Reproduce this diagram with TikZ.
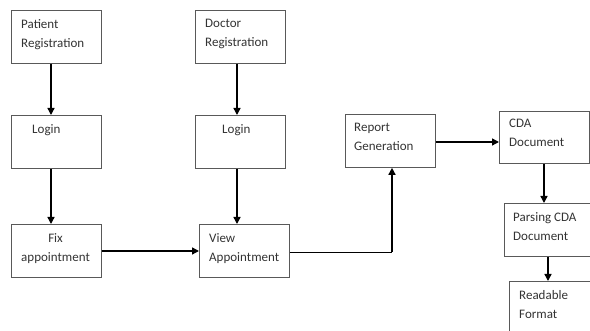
\documentclass[tikz,border=0pt]{standalone}
\usepackage{fontspec}
\setmainfont{Carlito}
\usepackage{tikz}
\usetikzlibrary{arrows.meta}

\tikzset{
  stagebox/.style={draw=black!65, line width=0.8pt, minimum width=90pt, minimum height=53pt,
    anchor=north west, inner sep=0pt},
  boxtext/.style={anchor=north west, align=left, inner sep=0pt, xshift=10pt, yshift=-9pt,
    font=\fontsize{13}{19}\selectfont, text=black!80},
  flow/.style={line width=1.4pt, -{Triangle[length=7pt,width=7pt]}}
}

\begin{document}
\begin{tikzpicture}[x=1pt,y=-1pt]
\useasboundingbox (0,0) rectangle (590,331);

% patient side
\node[stagebox, label={[boxtext]north west:Patient\\Registration}] (preg) at (11,10) {};
\node[stagebox, label={[boxtext, xshift=11pt]north west:Login}] (plogin) at (11,115) {};
\node[stagebox, label={[boxtext, align=center]north west:Fix\\appointment}] (fix) at (11,224) {};

% doctor side
\node[stagebox, label={[boxtext]north west:Doctor\\Registration}] (dreg) at (195,10) {};
\node[stagebox, label={[boxtext, xshift=17pt]north west:Login}] (dlogin) at (195,115) {};
\node[stagebox, label={[boxtext]north west:View\\Appointment}] (view) at (199,224) {};

% report and CDA
\node[stagebox, label={[boxtext, xshift=-1pt]north west:Report\\Generation}] (report) at (345,114) {};
\node[stagebox, minimum height=52pt, label={[boxtext, yshift=1pt]north west:CDA\\Document}] (cda) at (499,111) {};
\node[stagebox, label={[boxtext, xshift=-1pt]north west:Parsing CDA\\Document}] (parse) at (504,203) {};
\node[stagebox, label={[boxtext]north west:Readable\\Format}] (readable) at (509,281) {};

\coordinate (bend) at (392,252);

\draw[flow] (preg.south -| 51,0) -- (plogin.north -| 51,0);
\draw[flow] (plogin.south -| 51,0) -- (fix.north -| 51,0);
\draw[flow] (dreg.south -| 237,0) -- (dlogin.north -| 237,0);
\draw[flow] (dlogin.south -| 237,0) -- (view.north -| 237,0);
\draw[flow] (fix.east |- 0,251) -- (view.west |- 0,251);
\draw[line width=0.6pt] (view.east |- bend) -- (bend);
\draw[flow] (bend) -- (report.south -| bend);
\draw[flow] (report.east |- 0,142) -- (cda.west |- 0,142);
\draw[flow] (cda.south -| 544,0) -- (parse.north -| 544,0);
\draw[flow] (parse.south -| 548,0) -- (readable.north -| 548,0);
\end{tikzpicture}
\end{document}
